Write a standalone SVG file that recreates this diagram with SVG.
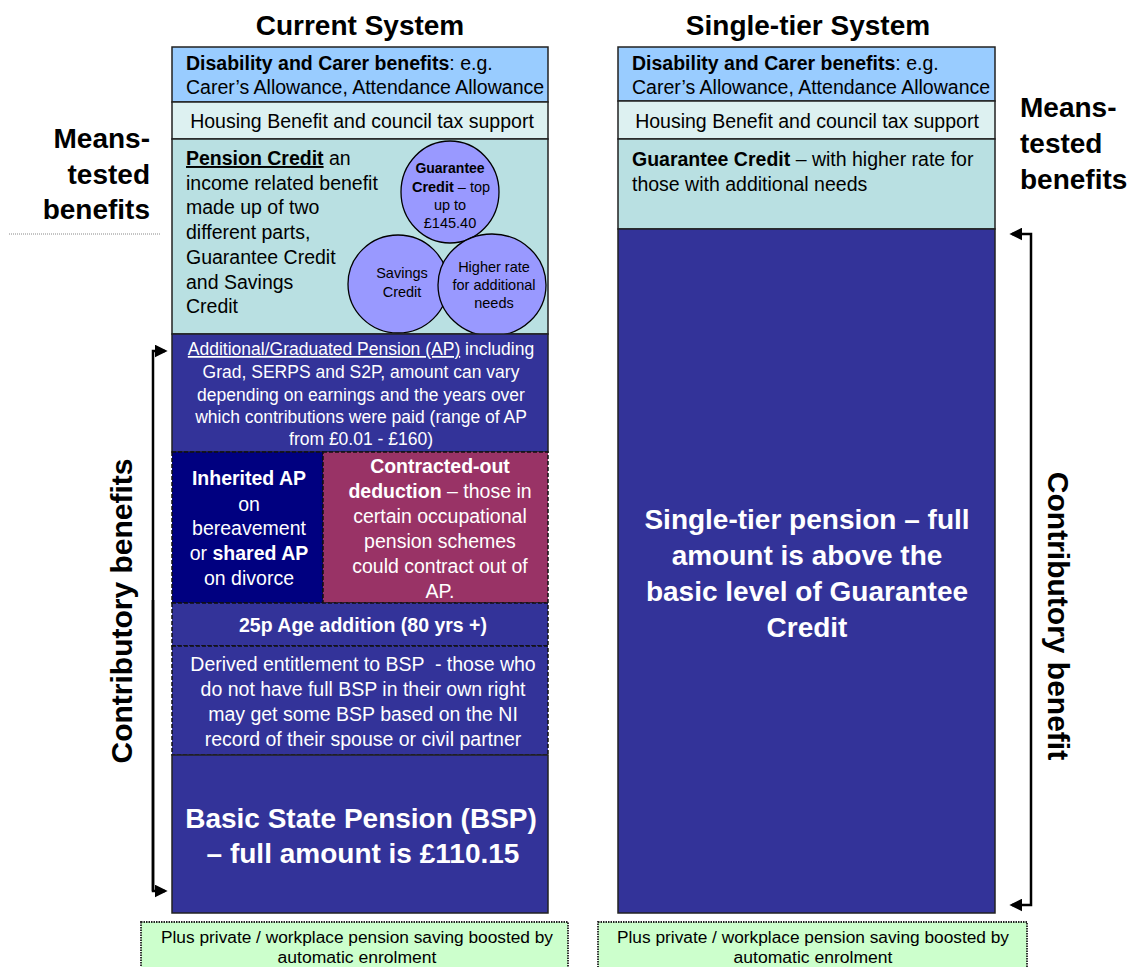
<svg xmlns="http://www.w3.org/2000/svg" width="1130" height="967" viewBox="0 0 1130 967">
<style>
text{font-family:"Liberation Sans",Arial,sans-serif;}
.t{font-size:28px;font-weight:bold;fill:#000;}
.v{font-size:30px;font-weight:bold;fill:#000;}
.b{stroke:#222;stroke-width:1.5;}
.d{stroke:#111;stroke-width:1.5;stroke-dasharray:4,2;}
.g{stroke:#222;stroke-width:1.8;stroke-dasharray:1.5,1;fill:#CCFFCC;}
.k{font-size:19.5px;fill:#000;}
.w{fill:#fff;text-anchor:middle;}
.m{font-size:19.5px;}
.big{font-size:28px;font-weight:bold;}
.c{stroke:#000;stroke-width:1.3;fill:#9999FF;}
.ln{stroke:#000;stroke-width:2.5;fill:none;}
.bold{font-weight:bold;}
.p{font-size:16px;text-anchor:middle;fill:#000;}
</style>
<defs>
<marker id="ah" viewBox="0 0 10 10" refX="8" refY="5" markerWidth="13" markerHeight="13" orient="auto" markerUnits="userSpaceOnUse">
<path d="M0,0 L10,5 L0,10 z" fill="#000"/>
</marker>
</defs>
<rect width="1130" height="967" fill="#fff"/>

<g id="titles">
<text class="t" x="360" y="35" text-anchor="middle">Current System</text>
<text class="t" x="808" y="35" text-anchor="middle">Single-tier System</text>
</g>

<g id="labels-left">
<text class="t" x="150" y="148" text-anchor="end">Means-</text>
<text class="t" x="150" y="184" text-anchor="end">tested</text>
<text class="t" x="150" y="219" text-anchor="end">benefits</text>
<line x1="9" y1="234" x2="161" y2="234" stroke="#888" stroke-width="1" stroke-dasharray="1,1"/>
<text class="v" transform="translate(132,611) rotate(-90)" text-anchor="middle">Contributory benefits</text>
</g>

<g id="labels-right">
<text class="t" x="1020" y="117">Means-</text>
<text class="t" x="1020" y="153">tested</text>
<text class="t" x="1020" y="189">benefits</text>
<text class="v" transform="translate(1048,616) rotate(90)" text-anchor="middle">Contributory benefit</text>
</g>

<g id="connectors">
<path class="ln" d="M153,891 L153,351 L165,351" marker-end="url(#ah)"/>
<path class="ln" d="M153,600 L153,891 L165,891" marker-end="url(#ah)"/>
<path class="ln" d="M1031,600 L1031,234 L1012,234" marker-end="url(#ah)"/>
<path class="ln" d="M1031,600 L1031,905 L1012,905" marker-end="url(#ah)"/>
</g>

<g id="cur-disability">
<rect class="b" x="172" y="47" width="376" height="55" fill="#99CCFF"/>
<text class="k" x="186" y="70"><tspan class="bold">Disability and Carer benefits</tspan>: e.g.</text>
<text class="k" x="186" y="94">Carer’s Allowance, Attendance Allowance</text>
</g>
<g id="cur-housing">
<rect class="b" x="172" y="102" width="376" height="37" fill="#DDF1F1"/>
<text class="k" x="362" y="128" text-anchor="middle">Housing Benefit and council tax support</text>
</g>
<g id="cur-pension-credit">
<rect class="b" x="172" y="139" width="376" height="195" fill="#B9E0E2"/>
<text class="k" x="186" y="165"><tspan class="bold" text-decoration="underline">Pension Credit</tspan> an</text>
<text class="k" x="186" y="190">income related benefit</text>
<text class="k" x="186" y="214">made up of two</text>
<text class="k" x="186" y="239">different parts,</text>
<text class="k" x="186" y="264">Guarantee Credit</text>
<text class="k" x="186" y="289">and Savings</text>
<text class="k" x="186" y="313">Credit</text>
</g>
<g id="circle-guarantee">
<ellipse class="c" cx="450" cy="192" rx="49" ry="51"/>
<text x="450" y="173" font-size="14" text-anchor="middle" font-weight="bold">Guarantee</text>
<text x="451" y="192" font-size="14.5" text-anchor="middle"><tspan font-weight="bold">Credit</tspan> – top</text>
<text x="450" y="210" font-size="14.5" text-anchor="middle">up to</text>
<text x="450" y="228" font-size="14.5" text-anchor="middle">£145.40</text>
</g>
<g id="circle-savings">
<ellipse class="c" cx="398" cy="284" rx="50" ry="49"/>
<text x="402" y="278" font-size="14.5" text-anchor="middle">Savings</text>
<text x="402" y="297" font-size="14.5" text-anchor="middle">Credit</text>
</g>
<g id="circle-higher">
<ellipse class="c" cx="492" cy="285" rx="54" ry="51"/>
<text x="494" y="272" font-size="14.5" text-anchor="middle">Higher rate</text>
<text x="494" y="290" font-size="14.5" text-anchor="middle">for additional</text>
<text x="494" y="308" font-size="14.5" text-anchor="middle">needs</text>
</g>
<g id="cur-ap">
<rect class="b" x="172" y="334" width="376" height="118" fill="#333399"/>
<text class="w" x="361" y="355" font-size="17.5"><tspan text-decoration="underline">Additional/Graduated Pension (AP)</tspan> including</text>
<text class="w" x="361" y="378" font-size="17.5">Grad, SERPS and S2P, amount can vary</text>
<text class="w" x="361" y="401" font-size="17.5">depending on earnings and the years over</text>
<text class="w" x="361" y="423" font-size="17.5">which contributions were paid (range of AP</text>
<text class="w" x="361" y="445" font-size="17.5">from £0.01 - £160)</text>
</g>
<g id="cur-inherited">
<rect class="d" x="172" y="452" width="151" height="151" fill="#000080"/>
<text class="w m" x="249" y="485" font-weight="bold">Inherited AP</text>
<text class="w m" x="249" y="511">on</text>
<text class="w m" x="249" y="535">bereavement</text>
<text class="w m" x="249" y="560">or <tspan font-weight="bold">shared AP</tspan></text>
<text class="w m" x="249" y="585">on divorce</text>
</g>
<g id="cur-contracted">
<rect class="d" x="323" y="452" width="225" height="151" fill="#993366"/>
<text class="w m" x="440" y="473" font-weight="bold">Contracted-out</text>
<text class="w m" x="440" y="498"><tspan font-weight="bold">deduction</tspan> – those in</text>
<text class="w m" x="440" y="523">certain occupational</text>
<text class="w m" x="440" y="548">pension schemes</text>
<text class="w m" x="440" y="573">could contract out of</text>
<text class="w m" x="440" y="598">AP.</text>
</g>
<g id="cur-age">
<rect class="d" x="172" y="603" width="376" height="43" fill="#333399"/>
<text class="w m" x="363" y="632" font-weight="bold">25p Age addition (80 yrs +)</text>
</g>
<g id="cur-derived">
<rect class="d" x="172" y="646" width="376" height="109" fill="#333399"/>
<text class="w m" x="363" y="671" xml:space="preserve">Derived entitlement to BSP  - those who</text>
<text class="w m" x="363" y="696">do not have full BSP in their own right</text>
<text class="w m" x="363" y="721">may get some BSP based on the NI</text>
<text class="w m" x="363" y="746">record of their spouse or civil partner</text>
</g>
<g id="cur-bsp">
<rect class="b" x="172" y="755" width="376" height="158" fill="#333399"/>
<text class="w big" x="361" y="828">Basic State Pension (BSP)</text>
<text class="w big" x="363" y="863">– full amount is £110.15</text>
</g>
<g id="cur-private">
<rect class="g" x="141" y="922" width="427" height="50"/>
<text class="p" x="357" y="943" textLength="392" lengthAdjust="spacingAndGlyphs">Plus private / workplace pension saving boosted by</text>
<text class="p" x="357" y="963" textLength="159" lengthAdjust="spacingAndGlyphs">automatic enrolment</text>
</g>

<g id="st-disability">
<rect class="b" x="618" y="47" width="377" height="54" fill="#99CCFF"/>
<text class="k" x="632" y="70"><tspan class="bold">Disability and Carer benefits</tspan>: e.g.</text>
<text class="k" x="632" y="94">Carer’s Allowance, Attendance Allowance</text>
</g>
<g id="st-housing">
<rect class="b" x="618" y="101" width="377" height="38" fill="#DDF1F1"/>
<text class="k" x="807" y="128" text-anchor="middle">Housing Benefit and council tax support</text>
</g>
<g id="st-guarantee">
<rect class="b" x="618" y="139" width="377" height="90" fill="#B9E0E2"/>
<text class="k" x="632" y="166"><tspan font-weight="bold">Guarantee Credit</tspan> – with higher rate for</text>
<text class="k" x="632" y="191">those with additional needs</text>
</g>
<g id="st-pension">
<rect class="b" x="618" y="229" width="377" height="684" fill="#333399"/>
<text class="w big" x="807" y="529">Single-tier pension – full</text>
<text class="w big" x="807" y="565">amount is above the</text>
<text class="w big" x="807" y="601">basic level of Guarantee</text>
<text class="w big" x="807" y="637">Credit</text>
</g>
<g id="st-private">
<rect class="g" x="598" y="922" width="429" height="50"/>
<text class="p" x="813" y="943" textLength="392" lengthAdjust="spacingAndGlyphs">Plus private / workplace pension saving boosted by</text>
<text class="p" x="813" y="963" textLength="159" lengthAdjust="spacingAndGlyphs">automatic enrolment</text>
</g>
</svg>
